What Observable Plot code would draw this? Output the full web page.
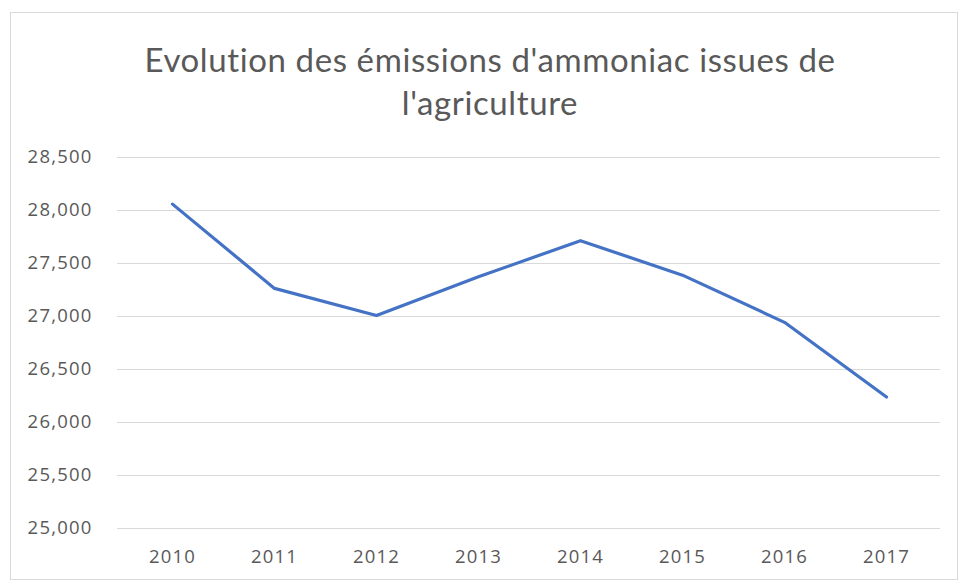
<!DOCTYPE html>
<html>
<head>
<meta charset="utf-8">
<script src="https://cdn.jsdelivr.net/npm/d3@7"></script>
<script src="https://cdn.jsdelivr.net/npm/@observablehq/plot@0.6"></script>
<style>
  html, body { margin: 0; padding: 0; background: #fff; }
  body { width: 960px; height: 582px; position: relative; overflow: hidden; font-family: Lato, "Open Sans", sans-serif; }
  #frame { position: absolute; left: 10px; top: 12px; width: 946px; height: 566px; border: 1px solid #d9d9d9; pointer-events: none; }
  #title { height: 130px; box-sizing: border-box; padding-top: 38px; padding-left: 20px; text-align: center; color: #595959; font-size: 33px; letter-spacing: 0.6px; line-height: 43px; }
  #chart svg { display: block; }
</style>
</head>
<body>
<div id="frame"></div>
<div id="title">Evolution des émissions d'ammoniac issues de<br>l'agriculture</div>
<div id="chart"></div>
<script>
// Ammonia emissions from agriculture, by year
const years = ["2010", "2011", "2012", "2013", "2014", "2015", "2016", "2017"];
const emissions = [28060, 27265, 27010, 27375, 27715, 27390, 26945, 26240];
const yTicks = [25000, 25500, 26000, 26500, 27000, 27500, 28000, 28500];

const data = years.map((year, i) => ({year, value: emissions[i]}));

const chart = Plot.plot({
  width: 960,
  height: 452,
  marginTop: 27,
  marginBottom: 54,
  marginLeft: 117,
  marginRight: 20,
  style: {fontFamily: "'Open Sans', sans-serif", fontSize: "18.5px", letterSpacing: "1.2px", color: "#595959", background: "transparent"},
  x: {type: "point", domain: years, padding: 0.5, label: null},
  y: {domain: [25000, 28500], label: null},
  marks: [
    Plot.ruleY(yTicks, {stroke: "#d9d9d9", strokeWidth: 1.2}),
    Plot.axisY(yTicks, {tickSize: 0, tickPadding: 25, tickFormat: d3.format(","), label: null, fill: "#595959"}),
    Plot.axisX({tickSize: 0, tickPadding: 21, label: null, fill: "#595959"}),
    Plot.line(data, {x: "year", y: "value", stroke: "#4472c4", strokeWidth: 3.2, strokeLinejoin: "round", strokeLinecap: "round"})
  ]
});
document.getElementById("chart").appendChild(chart);
</script>
</body>
</html>
